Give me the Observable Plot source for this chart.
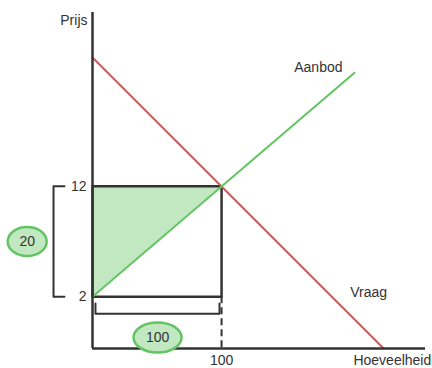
<!DOCTYPE html>
<html>
<head>
<meta charset="utf-8">
<script src="https://cdn.jsdelivr.net/npm/d3@7"></script>
<script src="https://cdn.jsdelivr.net/npm/@observablehq/plot@0.6"></script>
<style>
  html, body { margin: 0; padding: 0; background: #fff; }
</style>
</head>
<body>
<div id="chart"></div>
<script>
// Domain of the schematic diagram
const xDomain = [0, 258];
const yDomain = [-2.7, 27.75];

// Curves
const demand = [{q: 0, p: 23.67}, {q: 225.6, p: -2.7}];
const supply = [{q: 0, p: 2}, {q: 203, p: 22.3}];

// Equilibrium / rectangle
const eqQ = 100, eqP = 12, lowP = 2;
const rectCorners = [{q: 0, p: lowP}, {q: 0, p: eqP}, {q: eqQ, p: eqP}, {q: eqQ, p: lowP}, {q: 0, p: lowP}];
const triangleEdge = [{q: 0, p: lowP}, {q: eqQ, p: eqP}];

// Ticks
const yTicks = [2, 12];
const xTicks = [100];

// Labels
const curveLabels = [
  {q: 175, p: 22.8, text: "Aanbod"},
  {q: 213.9, p: 2.4, text: "Vraag"}
];
const axisTitles = [
  {q: 0, p: 27.0, text: "Prijs"},
  {q: 232.3, p: -2.7, text: "Hoeveelheid"}
];

// Brackets
const leftBracket = [{q: -21.7, p: 12}, {q: -30.2, p: 12}, {q: -30.2, p: 2}, {q: -21.7, p: 2}];
const bottomBracket = [{q: 2.3, p: 1.38}, {q: 2.3, p: 0.45}, {q: 98.4, p: 0.45}, {q: 98.4, p: 1.38}];

// Bubbles
const bubble20 = [{q: -50.6, p: 7, text: "20"}];
const bubble100 = [{q: 50.4, p: -1.7, text: "100"}];

const dark = "#333333";
const red = "#c85f5d";
const green = "#62c462";
const lightGreen = "#c2e8c2";
const font = "'Liberation Sans', Arial, sans-serif";

function ellipseSymbol(rx, ry) {
  const k = 0.5522848;
  return {
    draw(ctx) {
      ctx.moveTo(rx, 0);
      ctx.bezierCurveTo(rx, ry * k, rx * k, ry, 0, ry);
      ctx.bezierCurveTo(-rx * k, ry, -rx, ry * k, -rx, 0);
      ctx.bezierCurveTo(-rx, -ry * k, -rx * k, -ry, 0, -ry);
      ctx.bezierCurveTo(rx * k, -ry, rx, -ry * k, rx, 0);
      ctx.closePath();
    }
  };
}

const chart = Plot.plot({
  width: 432,
  height: 368,
  marginLeft: 92,
  marginRight: 7,
  marginTop: 12,
  marginBottom: 20,
  x: {domain: xDomain, axis: null},
  y: {domain: yDomain, axis: null},
  style: {fontFamily: font, fontSize: "14px", color: dark, background: "#fff"},
  marks: [
    Plot.areaY(triangleEdge, {x: "q", y1: "p", y2: eqP, fill: lightGreen}),
    Plot.line(rectCorners, {x: "q", y: "p", stroke: dark, strokeWidth: 2.5}),
    Plot.ruleX([eqQ], {y1: lowP, y2: yDomain[0], stroke: dark, strokeWidth: 2, strokeDasharray: "7,4"}),
    Plot.line(demand, {x: "q", y: "p", stroke: red, strokeWidth: 2}),
    Plot.line(supply, {x: "q", y: "p", stroke: green, strokeWidth: 2}),
    Plot.ruleX([0], {stroke: dark, strokeWidth: 2.5}),
    Plot.ruleY([yDomain[0]], {stroke: dark, strokeWidth: 2.5}),
    Plot.line(leftBracket, {x: "q", y: "p", stroke: dark, strokeWidth: 2}),
    Plot.line(bottomBracket, {x: "q", y: "p", stroke: dark, strokeWidth: 2}),
    Plot.text(yTicks, {x: 0, y: d => d, text: d => String(d), textAnchor: "end", dx: -6, fontSize: 14, fill: dark}),
    Plot.text(xTicks, {x: d => d, y: yDomain[0], text: d => String(d), dy: 12.5, fontSize: 14, fill: dark}),
    Plot.text(curveLabels, {x: "q", y: "p", text: "text", fontSize: 14, fill: dark}),
    Plot.text([axisTitles[0]], {x: "q", y: "p", text: "text", textAnchor: "end", dx: -5, fontSize: 14, fill: dark}),
    Plot.text([axisTitles[1]], {x: "q", y: "p", text: "text", dy: 12.5, fontSize: 14, fill: dark}),
    Plot.dot(bubble20, {x: "q", y: "p", symbol: ellipseSymbol(19.5, 14.5), fill: lightGreen, stroke: green, strokeWidth: 2.5}),
    Plot.dot(bubble100, {x: "q", y: "p", symbol: ellipseSymbol(24, 15), fill: lightGreen, stroke: green, strokeWidth: 2.5}),
    Plot.text(bubble20, {x: "q", y: "p", text: "text", fontSize: 14, fill: dark}),
    Plot.text(bubble100, {x: "q", y: "p", text: "text", fontSize: 14, fill: dark})
  ]
});
document.getElementById("chart").appendChild(chart);
</script>
</body>
</html>
